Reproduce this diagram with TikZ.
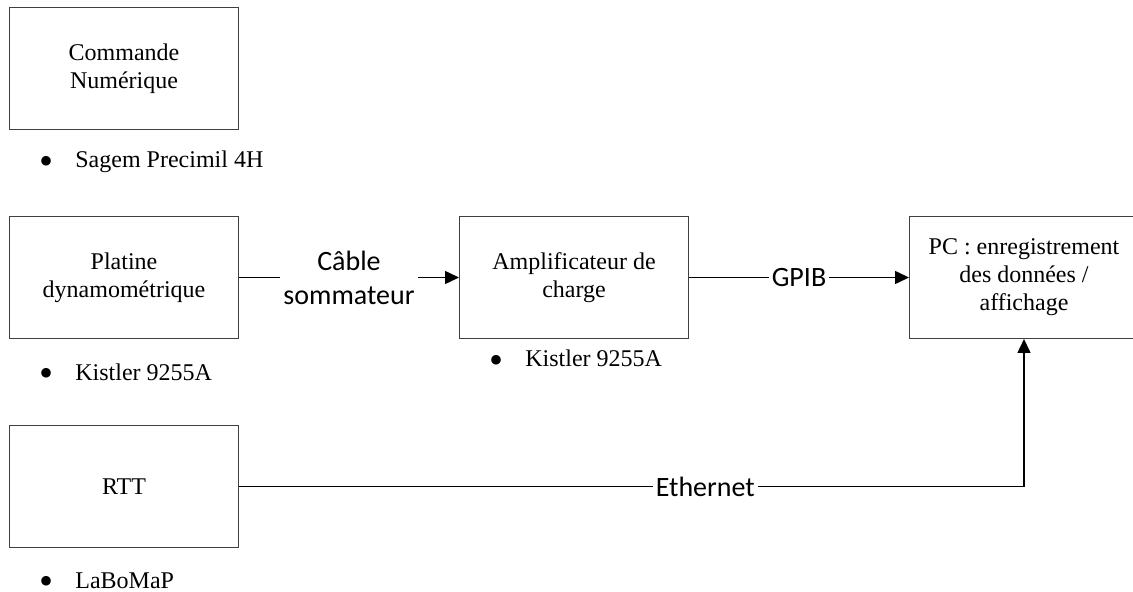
\documentclass[tikz,border=0pt]{standalone}
\usepackage{fontspec}
\setmainfont{Liberation Serif}
\newfontfamily\calibri{Carlito}
\usepackage{tikz}
\usetikzlibrary{arrows.meta,positioning}
\definecolor{boxborder}{HTML}{404040}
\newcommand{\refbullet}{\makebox[18pt][l]{\raisebox{-3.2pt}{\fontsize{20}{14}\selectfont\textbullet}}}

\begin{document}
\begin{tikzpicture}[x=0.5pt,y=-0.5pt,node distance=43pt and 110pt,>={Triangle[length=7pt,width=6.5pt]}]
\tikzstyle{unit}=[draw=boxborder,line width=0.5pt,align=center,minimum width=114.5pt,minimum height=61pt,inner sep=2pt,font=\fontsize{12}{14}\selectfont]
\tikzstyle{note}=[anchor=base west,inner sep=0pt,font=\fontsize{12}{14}\selectfont]
\tikzstyle{link}=[fill=white,inner sep=1.5pt,align=center,font=\calibri\fontsize{14}{17}\selectfont]
\tikzstyle{wire}=[->,line width=0.75pt]
\useasboundingbox (0,0) rectangle (1133,592);
\clip (0,0) rectangle (1133,592);
\node[unit,anchor=north west] (cn) at (9,7) {Commande\\Numérique};
\node[unit,below=of cn] (platine) {Platine\\dynamométrique};
\node[unit,below=of platine] (rtt) {RTT};
\node[unit,right=of platine] (ampli) {Amplificateur de\\charge};
\node[unit,right=of ampli] (pc) {PC : enregistrement\\des données /\\affichage};
% equipment references
\node[note] (cnref) at ([shift={(15pt,-19pt)}]cn.south west) {\refbullet Sagem Precimil 4H};
\node[note] (platineref) at ([shift={(15pt,-20.5pt)}]platine.south west) {\refbullet Kistler 9255A};
\node[note] (ampliref) at ([shift={(15pt,-14pt)}]ampli.south west) {\refbullet Kistler 9255A};
\node[note] (rttref) at ([shift={(15pt,-20pt)}]rtt.south west) {\refbullet LaBoMaP};
% links
\draw[wire] (platine) -- node[link]{Câble\\sommateur} (ampli);
\draw[wire] (ampli) -- node[link]{GPIB} (pc);
\draw[wire] (rtt) -| node[pos=0.297,link]{Ethernet} (pc);
\end{tikzpicture}
\end{document}
